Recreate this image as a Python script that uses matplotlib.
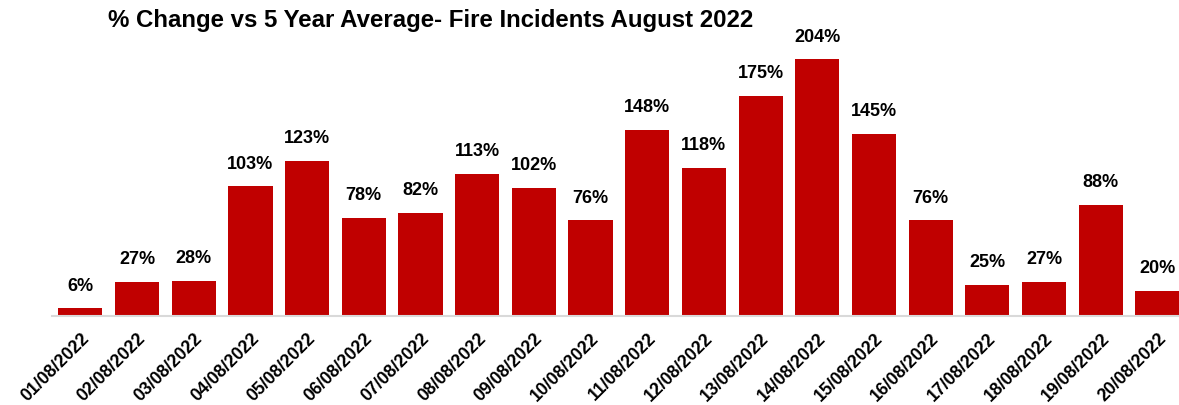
import matplotlib.pyplot as plt

dates = ["01/08/2022", "02/08/2022", "03/08/2022", "04/08/2022", "05/08/2022",
         "06/08/2022", "07/08/2022", "08/08/2022", "09/08/2022", "10/08/2022",
         "11/08/2022", "12/08/2022", "13/08/2022", "14/08/2022", "15/08/2022",
         "16/08/2022", "17/08/2022", "18/08/2022", "19/08/2022", "20/08/2022"]
pct_change = [6, 27, 28, 103, 123, 78, 82, 113, 102, 76,
              148, 118, 175, 204, 145, 76, 25, 27, 88, 20]

plt.rcParams['font.family'] = ['Liberation Sans', 'DejaVu Sans']

fig = plt.figure(figsize=(11.79, 4.05), dpi=100)
ax = fig.add_axes([52 / 1179, 1 - 316 / 405, 1 - 52 / 1179, 283 / 405])

x = range(len(dates))
bars = ax.bar(x, pct_change, width=0.78, color="#C00000")
for xi, v in zip(x, pct_change):
    ax.text(xi, v + 11, f"{v}%", ha="center", va="bottom",
            fontsize=13, fontweight="bold")

ax.set_xlim(-0.5, 19.38)
ax.set_ylim(0, 225)
ax.set_yticks([])
for s in ["top", "right", "left"]:
    ax.spines[s].set_visible(False)
ax.spines["bottom"].set_color("#D9D9D9")
ax.spines["bottom"].set_linewidth(1.5)
ax.set_xticks(list(x))
ax.set_xticklabels(dates, rotation=45, ha="right", rotation_mode="anchor",
                   fontsize=12.7, fontweight="bold")
ax.tick_params(axis="x", length=0, pad=10)

fig.text(431 / 1179, 1 - 20 / 405, "% Change vs 5 Year Average- Fire Incidents August 2022",
         ha="center", va="center", fontsize=17.3, fontweight="bold")

fig.savefig("out.png", dpi=100)
